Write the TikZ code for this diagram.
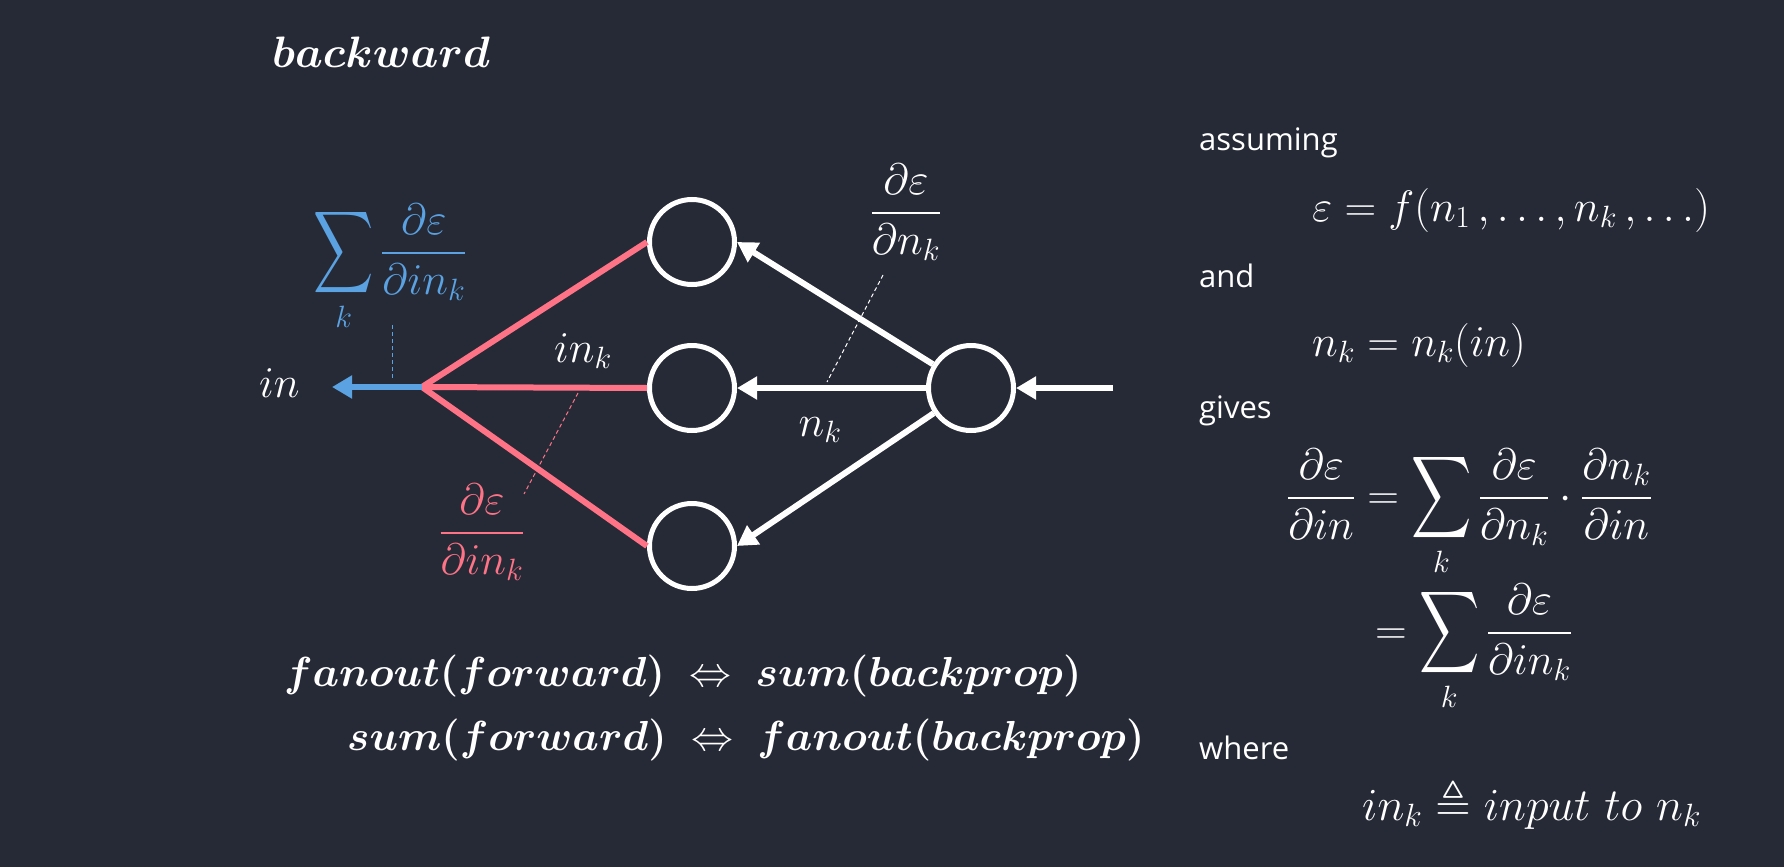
\RequirePackage{fix-cm}
\documentclass[tikz,border=0pt]{standalone}
\usepackage{amsmath,amssymb,bm,graphicx}
\usepackage{fontspec}
\newfontfamily\osans{Open Sans}
\usetikzlibrary{arrows.meta}
\definecolor{bg}{RGB}{38,42,54}
\definecolor{pinkc}{RGB}{255,115,135}
\definecolor{bluec}{RGB}{90,162,226}
\newcommand{\tallsum}{\mathop{\vcenter{\hbox{\scalebox{0.95}[1.3]{$\displaystyle\sum$}}}}\limits}
\begin{document}
\begin{tikzpicture}[x=1pt,y=-1pt,
  neuron/.style={circle,draw=white,line width=5pt,minimum size=85pt,inner sep=0pt},
  warrow/.style={draw=white,line width=6pt,-{Triangle[length=20pt,width=22pt]}},
  pinkline/.style={draw=pinkc,line width=6pt},
  barrow/.style={draw=bluec,line width=6pt,-{Triangle[length=20pt,width=22pt]}},
  leader/.style={line width=1pt,dash pattern=on 4pt off 3pt},
  mtxt/.style={text=white,inner sep=0pt,font=\fontsize{44}{52}\selectfont},
  btxt/.style={text=white,inner sep=0pt,font=\fontsize{42}{50}\selectfont},
  stxt/.style={text=white,inner sep=0pt,anchor=base west,font=\fontsize{31}{37}\selectfont\osans},
]
\fill[bg] (0,0) rectangle (1784,867);
\useasboundingbox (0,0) rectangle (1784,867);

% title
\node[mtxt,anchor=base west] (title) at (272,67) {$\bm{backward}$};

% neurons
\node[neuron] (t) at (692,242) {};
\node[neuron] (m) at (692,388) {};
\node[neuron] (b) at (692,546) {};
\node[neuron] (r) at (971,388) {};

\coordinate (J) at (422,387);
\coordinate (inend) at (332,387);
\coordinate (src) at (1113,388);

\draw[pinkline] (J) -- (t.west);
\draw[pinkline] (J) -- (m.west);
\draw[pinkline] (J) -- (b.west);
\draw[barrow] (J) -- (inend);

\draw[warrow] (src) -- (r);
\draw[warrow] (r) -- (t.east);
\draw[warrow] (r) -- (m);
\draw[warrow] (r) -- (b.east);

% labels
\node[mtxt,anchor=base west] (inlbl) at (259,397) {$in$};
\node[mtxt,text=bluec,anchor=base] (bsum) at (390,264) {$\displaystyle\tallsum_k\frac{\partial\varepsilon}{\partial in_k}$};
\node[mtxt,anchor=center] (ink) at (583,351) {$in_k$};
\node[mtxt,anchor=center] (nk) at (820,430) {$n_k$};
\node[mtxt,anchor=base] (wfrac) at (906,224) {$\displaystyle\frac{\partial\varepsilon}{\partial n_k}$};
\node[mtxt,text=pinkc,anchor=base] (pfrac) at (482,544) {$\displaystyle\frac{\partial\varepsilon}{\partial in_k}$};

% leaders
\coordinate (bl1) at (392,325); \coordinate (bl2) at (392,380);
\coordinate (wl1) at (883,275); \coordinate (wl2) at (827,382);
\coordinate (pl1) at (578,393); \coordinate (pl2) at (524,494);
\draw[leader,bluec] (bl1) -- (bl2);
\draw[leader,white] (wl1) -- (wl2);
\draw[leader,pinkc] (pl1) -- (pl2);

% bottom statements
\node[btxt,anchor=base west] (s1) at (284,686) {$\bm{fanout(forward)}\ \Leftrightarrow\ \bm{sum(backprop)}$};
\node[btxt,anchor=base west] (s2) at (347,750) {$\bm{sum(forward)}\ \Leftrightarrow\ \bm{fanout(backprop)}$};

% right column
\node[stxt] (w1) at (1199,150) {assuming};
\node[mtxt,anchor=base west] (e1) at (1312,221) {$\varepsilon = f(n_1\,,\ldots,n_k\,,\ldots)$};
\node[stxt] (w2) at (1199,287) {and};
\node[mtxt,anchor=base west] (e2) at (1312,356) {$n_k = n_k(in)$};
\node[stxt] (w3) at (1199,418) {gives};
\node[mtxt,anchor=base west] (e3) at (1287,509) {$\displaystyle\frac{\partial\varepsilon}{\partial in}=\tallsum_k\frac{\partial\varepsilon}{\partial n_k}\cdot\frac{\partial n_k}{\partial in}$};
\node[mtxt,anchor=base west] (e4) at (1375,644) {$\displaystyle=\tallsum_k\frac{\partial\varepsilon}{\partial in_k}$};
\node[stxt] (w4) at (1199,759) {where};
\node[text=white,inner sep=0pt,font=\fontsize{46}{54}\selectfont,anchor=base west] (e5) at (1362,820) {$in_k\triangleq input\ to\ n_k$};
\end{tikzpicture}
\end{document}
